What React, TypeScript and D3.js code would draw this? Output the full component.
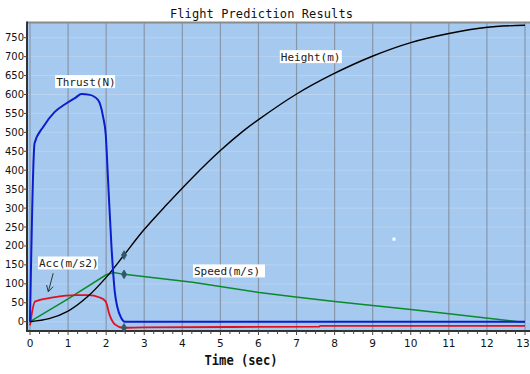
import React from 'react';
import * as d3 from 'd3';

// values
const thrustT = [0, 0.12, 0.35, 0.65, 0.96, 1.2, 1.35, 1.57, 1.79, 1.92, 1.99, 2.05, 2.14, 2.23, 2.29, 2.4, 2.49, 13];
const thrustV = [0, 471, 515, 554, 577, 592, 601, 599, 585, 541, 493, 374, 198, 76, 40, 9, 0, 0];

const heightT = [0, 0.5, 1.0, 1.5, 2.0, 2.47, 2.97, 3.58, 4.29, 5.0, 5.58, 6.02, 6.98, 7.94, 8.99, 10.0, 11.0, 11.96, 13.0];
const heightV = [0, 8, 28, 65, 117, 176, 240, 308, 383, 452, 502, 535, 600, 653, 701, 737, 761, 777, 783];

const speedT = [0, 1.0, 2.0, 2.2, 2.47, 4.27, 6.02, 6.98, 7.94, 10.0, 11.0, 12.82, 13];
const speedV = [0, 60, 124, 130, 125, 104, 77, 65, 54, 32, 21, 0, 0];

const accT = [0, 0.13, 0.61, 1.22, 1.53, 1.83, 1.99, 2.09, 2.23, 2.44, 2.97, 7.6, 7.62, 13];
const accV = [-10, 53, 64, 70, 70, 64, 53, 18, -7, -16, -15, -13, -11, -11];

// markers at burnout time
const markerT = 2.47;
const markerV = [176, 125, -16];

const xTicks = d3.range(0, 14);
const yTicks = d3.range(0, 751, 50);

const labels = [
  { text: 'Thrust(N)', t: 0.66, v: 634, w: 60 },
  { text: 'Height(m)', t: 6.56, v: 700, w: 62 },
  { text: 'Acc(m/s2)', t: 0.21, v: 155, w: 60 },
  { text: 'Speed(m/s)', t: 4.28, v: 134, w: 72 },
];

const W = 530;
const H = 374;

const x = d3.scaleLinear().domain([0, 13]).range([30, 525]);
const y = d3.scaleLinear().domain([0, 750]).range([321.7, 37.7]);

const plotLeft = 27;
const plotTop = 22.5;
const plotBottom = 331;
const plotRight = 530;

const zip = (ts: number[], vs: number[]) => ts.map((t, i) => [t, vs[i]] as [number, number]);

const straight = d3.line<[number, number]>().x(d => x(d[0])).y(d => y(d[1]));
const smooth = d3.line<[number, number]>().x(d => x(d[0])).y(d => y(d[1])).curve(d3.curveMonotoneX);
const rounded = d3.line<[number, number]>().x(d => x(d[0])).y(d => y(d[1])).curve(d3.curveCatmullRom.alpha(0.5));

const mono = '"DejaVu Sans Mono", monospace';

export default function App() {
  const diamond = d3.symbol().type(d3.symbolDiamond).size(22)() as string;

  // arrow from the Acc label down to the curve
  const a0: [number, number] = [x(0.61), y(128)];
  const a1: [number, number] = [x(0.48), y(79)];
  const ang = Math.atan2(a1[1] - a0[1], a1[0] - a0[0]);
  const head = (da: number) => [a1[0] - 7 * Math.cos(ang + da), a1[1] - 7 * Math.sin(ang + da)];
  const h1 = head(0.5);
  const h2 = head(-0.5);

  return (
    <svg width={W} height={H} style={{ position: 'absolute', left: 0, top: 0, background: '#fff' }}>
      <rect x={plotLeft} y={plotTop} width={plotRight - plotLeft} height={plotBottom - plotTop} fill="#a6c9ef" />

      {/* horizontal grid */}
      {yTicks.map(v => (
        <line key={'hg' + v} x1={plotLeft} x2={plotRight} y1={y(v)} y2={y(v)} stroke="#b9d3f1" strokeWidth={1} />
      ))}
      {/* vertical grid */}
      {xTicks.map(t => (
        <line key={'vg' + t} x1={x(t)} x2={x(t)} y1={plotTop} y2={plotBottom} stroke="#8797ab" strokeWidth={1.2} />
      ))}

      {/* frame */}
      <line x1={plotLeft} x2={plotRight} y1={plotTop} y2={plotTop} stroke="#8a8a8a" strokeWidth={2} />
      <line x1={plotLeft} x2={plotLeft} y1={plotTop - 1} y2={plotBottom + 1} stroke="#333" strokeWidth={2} />
      <line x1={plotLeft} x2={plotRight} y1={plotBottom} y2={plotBottom} stroke="#333" strokeWidth={2} />

      {/* x ticks */}
      {d3.range(0, 13.01, 0.25).map(t => (
        <line key={'xt' + t} x1={x(t)} x2={x(t)} y1={plotBottom} y2={plotBottom + (t % 1 === 0 ? 4 : 3)} stroke="#444" strokeWidth={1} />
      ))}
      {xTicks.map(t => (
        <text key={'xl' + t} x={t === 13 ? x(t) - 2 : x(t)} y={347} textAnchor="middle" fontFamily="DejaVu Sans, sans-serif" fontSize={10.5} fill="#111">{t}</text>
      ))}

      {/* y ticks */}
      {yTicks.map(v => (
        <g key={'yt' + v}>
          <line x1={plotLeft - 3} x2={plotLeft} y1={y(v)} y2={y(v)} stroke="#444" strokeWidth={1} />
          <text x={24} y={y(v)} dy="0.35em" textAnchor="end" fontFamily="DejaVu Sans, sans-serif" fontSize={10} fill="#111">{v}</text>
        </g>
      ))}

      {/* series */}
      <path d={straight(zip(speedT, speedV)) as string} fill="none" stroke="#0a8a2a" strokeWidth={1.5} />
      <path d={smooth(zip(accT, accV)) as string} fill="none" stroke="#e0101e" strokeWidth={1.8} />
      <path d={rounded(zip(heightT, heightV)) as string} fill="none" stroke="#000" strokeWidth={1.4} />
      <path d={smooth(zip(thrustT, thrustV)) as string} fill="none" stroke="#0a1ed0" strokeWidth={2} />

      {markerV.map((v, i) => (
        <path key={'m' + i} d={diamond} transform={`translate(${x(markerT)},${y(v)})`} fill="#2f5868" stroke="#2f5868" strokeWidth={0.8} />
      ))}

      {/* stray white dot */}
      <rect x={x(9.56) - 1.5} y={y(218) - 1.5} width={3} height={3} fill="#fff" />

      {/* series labels */}
      {labels.map(l => (
        <g key={l.text}>
          <rect x={x(l.t)} y={y(l.v) - 6.5} width={l.w} height={13} fill="#fff" />
          <text x={x(l.t) + 1} y={y(l.v)} dy="0.36em" fontFamily={mono} fontSize={11} fill="#222">{l.text}</text>
        </g>
      ))}

      <line x1={a0[0]} y1={a0[1]} x2={a1[0]} y2={a1[1]} stroke="#333" strokeWidth={1} />
      <polyline points={`${h1[0]},${h1[1]} ${a1[0]},${a1[1]} ${h2[0]},${h2[1]}`} fill="none" stroke="#333" strokeWidth={1} />

      <text x={261.5} y={18} textAnchor="middle" fontFamily={mono} fontSize={12} fill="#111" letterSpacing={0.1}>Flight Prediction Results</text>
      <text x={241} y={365} textAnchor="middle" fontFamily={mono} fontWeight="bold" fontSize={14} fill="#111" textLength={73} lengthAdjust="spacingAndGlyphs">Time (sec)</text>
    </svg>
  );
}
